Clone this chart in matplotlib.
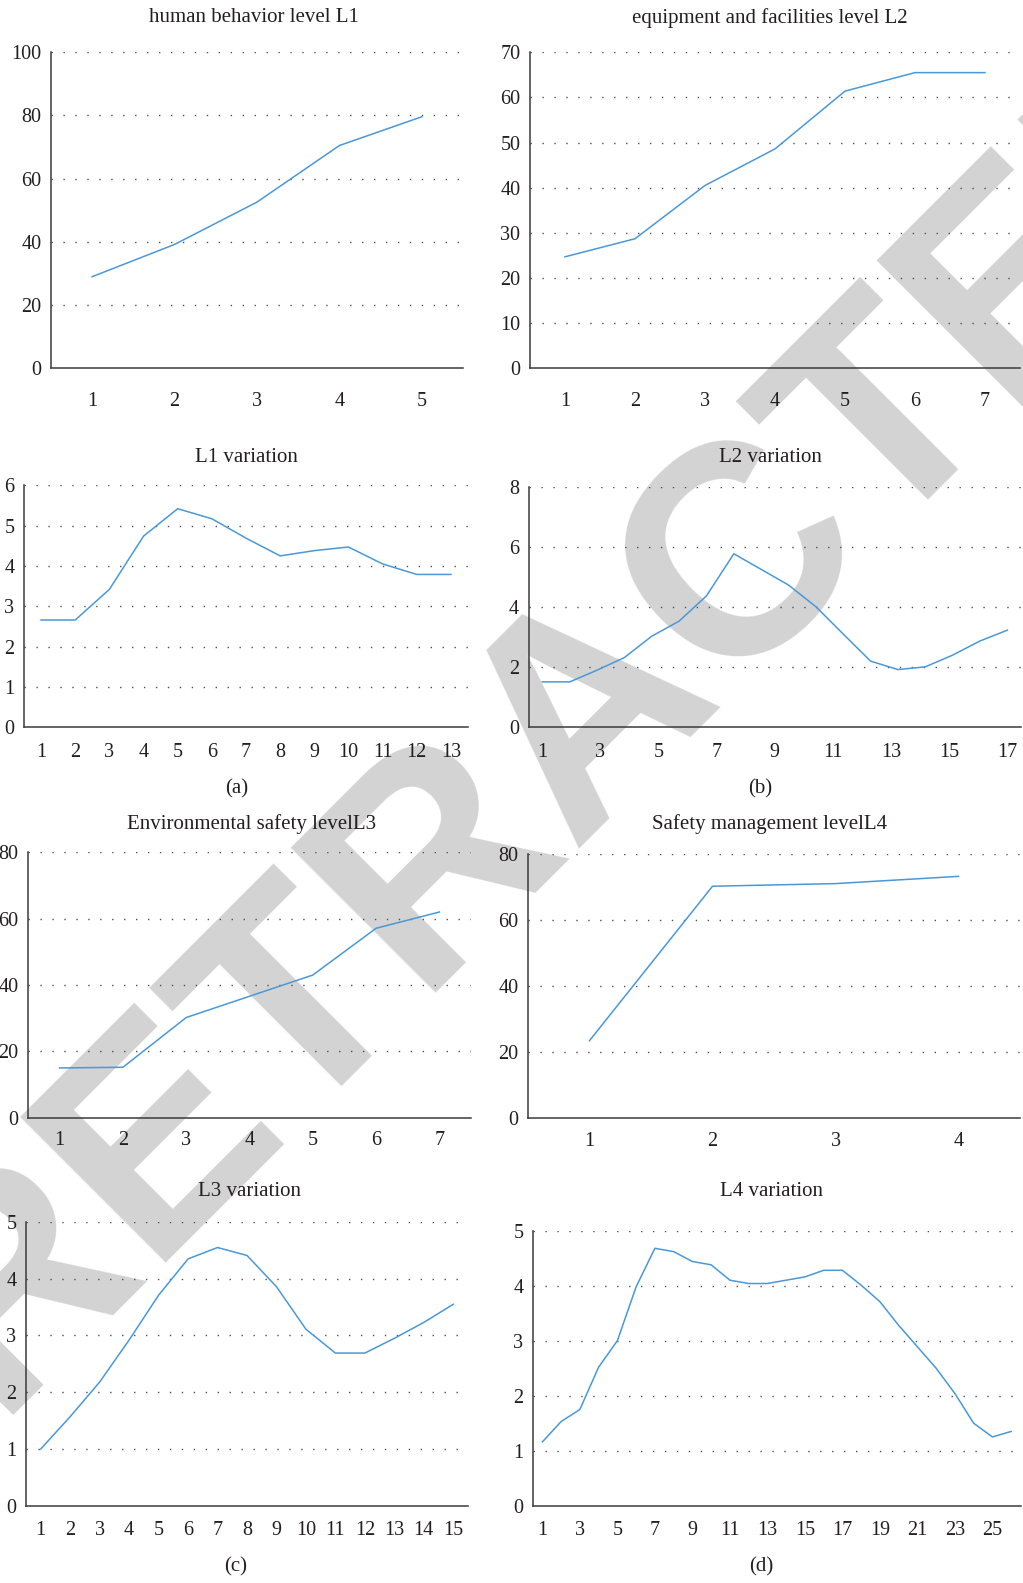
import matplotlib

matplotlib.use("Agg")
import matplotlib.pyplot as plt
import numpy as np

W, H = 1023, 1583
TEXT = "#231f20"
LINE = "#4a98d8"
SPINE = "#3a3a3a"
GRID = "#505050"
SERIF = ["Liberation Serif", "DejaVu Serif"]

# values
l1_level = [29.0, 39.2, 52.6, 70.5, 79.6]
l2_level = [24.7, 28.7, 40.5, 48.6, 61.4, 65.5, 65.5]
l1_var = [2.66, 2.66, 3.42, 4.74, 5.42, 5.17, 4.69, 4.25, 4.38, 4.47, 4.05, 3.79, 3.79]
l2_var = [1.51, 1.51, 1.90, 2.32, 3.03, 3.53, 4.37, 5.77, 5.25, 4.73, 4.01, 3.10,
          2.20, 1.92, 2.01, 2.40, 2.87, 3.23]
l3_level = [15.0, 15.2, 30.2, 36.6, 43.0, 57.1, 62.0]
l4_level = [23.4, 70.3, 71.1, 73.3]
l3_var = [1.00, 1.57, 2.18, 2.92, 3.71, 4.35, 4.55, 4.41, 3.86, 3.11, 2.69, 2.69,
          2.95, 3.23, 3.55]
l4_var = [1.16, 1.53, 1.75, 2.52, 3.00, 3.98, 4.68, 4.62, 4.44, 4.38, 4.10, 4.04,
          4.04, 4.10, 4.16, 4.28, 4.28, 4.01, 3.71, 3.28, 2.89, 2.50, 2.04, 1.50,
          1.25, 1.35]

titles = ["human behavior level L1", "equipment and facilities level L2",
          "L1 variation", "L2 variation",
          "Environmental safety levelL3", "Safety management levelL4",
          "L3 variation", "L4 variation"]
series = [l1_level, l2_level, l1_var, l2_var, l3_level, l4_level, l3_var, l4_var]
y_ticks = [range(0, 101, 20), range(0, 71, 10), range(0, 7), range(0, 9, 2),
           range(0, 81, 20), range(0, 81, 20), range(0, 6), range(0, 6)]
x_labels = [
    [str(i) for i in range(1, 6)],
    [str(i) for i in range(1, 8)],
    [str(i) for i in range(1, 14)],
    [str(i) for i in range(1, 18, 2)],
    [str(i) for i in range(1, 8)],
    [str(i) for i in range(1, 5)],
    [str(i) for i in range(1, 16)],
    [str(i) for i in range(1, 26, 2)],
]
sub_labels = ["(a)", "(b)", "(c)", "(d)"]

# layout in pixels: x0, x1, y_top, y_bottom
rects = [
    (51, 463, 52.3, 368.3),
    (530, 1020, 52.3, 368.3),
    (24, 468, 485.3, 727.3),
    (528.7, 1021, 486.7, 727.3),
    (28, 471, 852.3, 1117.7),
    (528, 1020, 854.3, 1117.7),
    (26, 468, 1222, 1505.7),
    (533, 1020.5, 1230.7, 1505.7),
]
title_xy = [(254, 18), (770, 18), (246, 457), (770, 457),
            (252, 824), (770, 824), (249, 1192), (771, 1192)]
xpads = [17, 17, 11, 11, 9.5, 10.5, 11, 11]
sub_xy = [(237, 789), (760, 789), (236, 1567), (761, 1567)]

fig = plt.figure(figsize=(W / 100, H / 100), dpi=100)

# retraction stamp behind the charts, anchored at the baseline start of its first letter
fig.text(-6.6 / W, 1 - 1414.6 / H, "RETRACTED", rotation=45, rotation_mode="anchor",
         ha="left", va="baseline", fontsize=215, fontweight="bold",
         family="Liberation Sans", color="#d3d3d3", zorder=-5)

for k, values in enumerate(series):
    x0, x1, yt, yb = rects[k]
    ax = fig.add_axes([x0 / W, 1 - yb / H, (x1 - x0) / W, (yb - yt) / H])
    ax.patch.set_visible(False)
    n = len(values)
    ax.plot(np.arange(n), values, color=LINE, linewidth=1.1, zorder=3)
    ax.set_xlim(-0.5, n - 0.5)

    labels = x_labels[k]
    if k == 3:
        ticks = np.linspace(0, n - 1, len(labels))
    elif k == 7:
        ticks = np.arange(0, n, 2)[:len(labels)]
    else:
        ticks = np.arange(len(labels))
    ax.set_xticks(ticks)
    ax.set_xticklabels(labels)

    yt_vals = list(y_ticks[k])
    ax.set_yticks(yt_vals)
    ax.set_ylim(0, yt_vals[-1])
    for v in yt_vals[1:]:
        ax.axhline(v, color=GRID, linewidth=1.0, linestyle=(0, (1, 7.6)), zorder=1)

    for side in ["top", "right"]:
        ax.spines[side].set_visible(False)
    for side in ["left", "bottom"]:
        ax.spines[side].set_color(SPINE)
        ax.spines[side].set_linewidth(1.1)
    ax.spines["bottom"].set_zorder(4)

    ax.tick_params(axis="both", length=0, labelsize=14.5, labelcolor=TEXT)
    ax.tick_params(axis="y", pad=7)
    ax.tick_params(axis="x", pad=xpads[k])
    for lab in ax.get_xticklabels() + ax.get_yticklabels():
        lab.set_family(SERIF)

    tx, ty = title_xy[k]
    fig.text(tx / W, 1 - ty / H, titles[k], ha="center", va="center",
             fontsize=15, color=TEXT, family=SERIF)

for (sx, sy), lab in zip(sub_xy, sub_labels):
    fig.text(sx / W, 1 - sy / H, lab, ha="center", va="center",
             fontsize=15, color=TEXT, family=SERIF)

fig.savefig("out.png", dpi=100)
plt.close(fig)
